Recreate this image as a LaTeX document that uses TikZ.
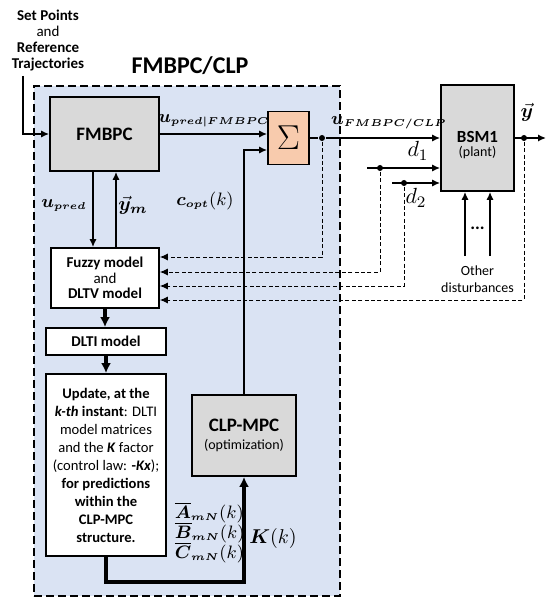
\documentclass[tikz,border=0pt]{standalone}
\usepackage{fontspec}
\setmainfont{Carlito}
\usepackage{amsmath}
\usepackage{bm}
\usetikzlibrary{arrows.meta}
\DeclareMathSizes{9}{9}{5}{5}

\definecolor{regionblue}{HTML}{DAE3F3}
\definecolor{boxgray}{HTML}{D9D9D9}
\definecolor{sumorange}{HTML}{F8CBAD}

\begin{document}
\begin{tikzpicture}[x=0.5pt, y=-0.5pt, >={Latex[length=4pt,width=3.6pt]}, line width=0.75pt,
  blk/.style={draw, line width=0.9pt, align=center, inner sep=0pt, font=\fontsize{7.5}{9}\selectfont},
  gblk/.style={blk, fill=boxgray},
  wblk/.style={blk, fill=white},
  fb/.style={line width=0.5pt, dash pattern=on 2pt off 1.2pt},
  thk/.style={line width=1.6pt, -{Latex[length=5pt,width=5pt]}},
  lbl/.style={font=\fontsize{9}{10}\selectfont},
  mlbl/.style={lbl, anchor=west, inner sep=0pt},
  txt/.style={align=center, font=\fontsize{7.5}{8}\selectfont},
  jdot/.style={circle, fill, inner sep=0pt, minimum size=3pt}]
  \useasboundingbox (0,0) rectangle (550,609);

  % controller region
  \node[draw, fill=regionblue, line width=1.3pt, dash pattern=on 4pt off 2pt,
        minimum width=153pt, minimum height=255pt, inner sep=0pt] (region) at (187,341) {};
  \node[font=\bfseries\fontsize{12}{14}\selectfont] (title) at (190,66) {FMBPC/CLP};

  % blocks
  \node[txt] (setpt) at (48,41) {\textbf{Set Points}\\and\\\textbf{Reference}\\\textbf{Trajectories}};
  \node[gblk, minimum width=54.5pt, minimum height=37pt, font=\bfseries\fontsize{9.5}{11}\selectfont] (fmbpc) at (104.5,134) {FMBPC};
  \node[blk, fill=sumorange, minimum width=20.5pt, minimum height=26.5pt, font=\fontsize{17}{17}\selectfont] (sum) at (288.5,138) {$\Sigma$};
  \node[gblk, minimum width=36.5pt, minimum height=53pt] (bsm) at (477.5,138) {};
  \node[txt, font=\fontsize{7}{7}\selectfont] (bsmtxt) at (477.5,145)
    {{\bfseries\fontsize{8.5}{10}\selectfont BSM1}\\(plant)};
  \node[wblk, minimum width=54pt, minimum height=30pt, font=\fontsize{7.5}{7.8}\selectfont] (fuzzy) at (105,278)
    {\textbf{Fuzzy model}\\and\\\textbf{DLTV model}};
  \node[wblk, minimum width=60pt, minimum height=13.5pt, font=\bfseries\fontsize{7.5}{9}\selectfont] (dlti) at (106,341.5) {DLTI model};
  \node[wblk, minimum width=60pt, minimum height=91pt, font=\fontsize{7.3}{9}\selectfont] (update) at (106,465)
    {\textbf{Update, at the}\\\textbf{\textit{k-th}} \textbf{instant}: DLTI\\model matrices\\and the \textbf{\textit{K}} factor\\(control law: \textbf{-\textit{Kx}});\\\textbf{for predictions}\\\textbf{within the}\\\textbf{CLP-MPC}\\\textbf{structure.}};
  \node[gblk, minimum width=52pt, minimum height=40.5pt] (clp) at (244,435.5)
    {{\bfseries\fontsize{9.5}{11}\selectfont CLP-MPC}\\{\fontsize{7}{8}\selectfont(optimization)}};
  \node[font=\bfseries\fontsize{9}{9}\selectfont] (dots) at (477.5,228) {...};
  \node[txt, font=\fontsize{7}{8.5}\selectfont] (other) at (477.5,279) {Other\\disturbances};

  % junctions and free ends
  \coordinate (sp) at (23,76);
  \node[jdot] (jsum) at (322,138) {};
  \coordinate (d1s) at (367,168);
  \node[jdot] (jd1) at (380,168) {};
  \coordinate (d2s) at (392,183);
  \node[jdot] (jd2) at (404,183) {};
  \node[jdot] (jy) at (524,138) {};
  \coordinate (yout) at (546,138);
  \coordinate (od1) at (465,256);
  \coordinate (od2) at (490,256);

  % signal lines
  \draw[->] (sp) |- (fmbpc.west);
  \draw[->] (fmbpc.east) -- (fmbpc.east -| sum.west);
  \draw[->] (clp.north) |- (sum.west |- 0,150);
  \draw (sum.east) -- (jsum);
  \draw[->] (jsum) -- (bsm.west);
  \draw[->] (d1s) -- (bsm.west |- d1s);
  \draw[->] (d2s) -- (bsm.west |- d2s);
  \draw[->] (bsm.east) -- (yout);
  \draw[->] (od1) -- (od1 |- bsm.south);
  \draw[->] (od2) -- (od2 |- bsm.south);
  \draw[->] (fmbpc.south -| 93,0) -- (fuzzy.north -| 93,0);
  \draw[->] (fuzzy.north -| 116,0) -- (fmbpc.south -| 116,0);
  \draw[thk] (fuzzy.south) -- (fuzzy.south |- dlti.north);
  \draw[thk] (dlti.south) -- (update.north);
  \draw[thk] (update.south) -- (update.south |- 0,582) -| (clp.south);

  % measured feedback
  \draw[fb,->] (jsum) |- (fuzzy.east |- 0,257);
  \draw[fb,->] (jd1) |- (fuzzy.east |- 0,272);
  \draw[fb,->] (jd2) |- (fuzzy.east |- 0,286);
  \draw[fb,->] (jy) |- (fuzzy.east |- 0,300);

  % labels
  \node[lbl] (lupred) at (214,121) {$\bm{u}_{\bm{pred|FMBPC}}$};
  \node[lbl] (lcopt) at (205,201) {$\bm{c}_{\bm{opt}}(k)$};
  \node[lbl] (lufc) at (389,123) {$\bm{u}_{\bm{FMBPC/CLP}}$};
  \node[font=\fontsize{11}{12}\selectfont] (ld1) at (418,151) {$d_1$};
  \node[font=\fontsize{11}{12}\selectfont] (ld2) at (416,198) {$d_2$};
  \node[font=\fontsize{10}{12}\selectfont] (ly) at (527,112) {$\vec{\bm{y}}$};
  \node[lbl] (lupr) at (64,205) {$\bm{u}_{\bm{pred}}$};
  \node[font=\fontsize{10}{12}\selectfont] (lym) at (133,205) {$\vec{\bm{y}}_{\bm{m}}$};
  \node[mlbl] (lamat) at (174,513) {$\overline{\bm{A}}_{\bm{mN}}(k)$};
  \node[mlbl] (lbmat) at (174,533) {$\overline{\bm{B}}_{\bm{mN}}(k)$};
  \node[mlbl] (lcmat) at (174,553) {$\overline{\bm{C}}_{\bm{mN}}(k)$};
  \node[font=\fontsize{10}{12}\selectfont] (lk) at (273,538) {$\bm{K}(k)$};
\end{tikzpicture}
\end{document}
